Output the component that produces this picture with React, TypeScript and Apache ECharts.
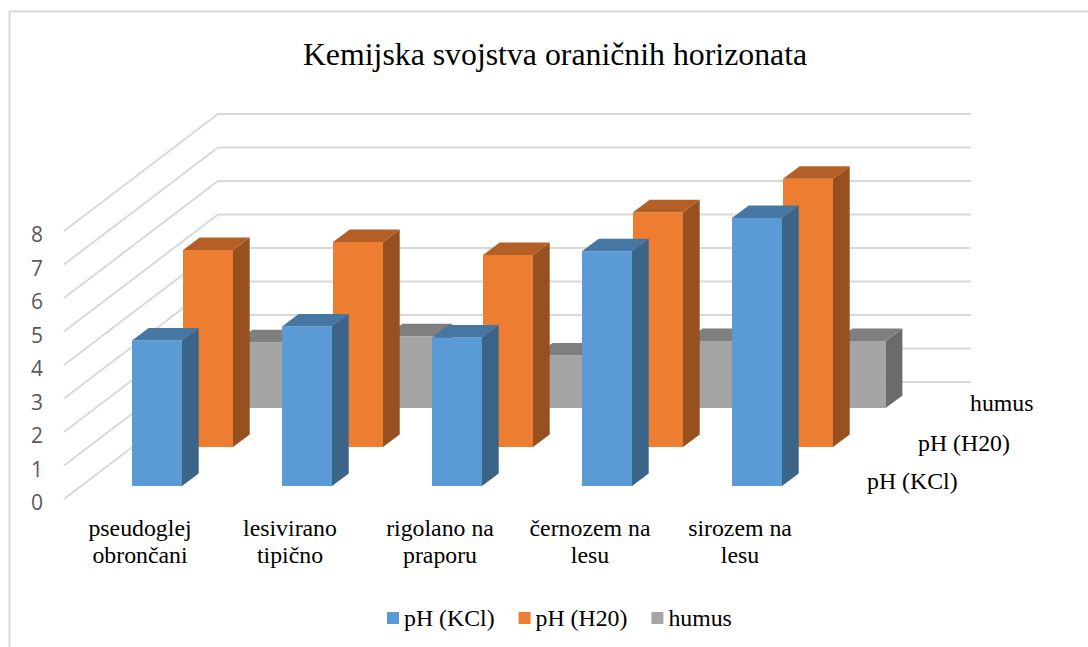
import React, { useEffect, useRef } from "react";
import * as echarts from "echarts";

const titleText = "Kemijska svojstva oraničnih horizonata";
const categories = ["pseudoglej\nobrončani", "lesivirano\ntipično", "rigolano na\npraporu", "černozem na\nlesu", "sirozem na\nlesu"];
const phKcl = [4.34, 4.76, 4.43, 7.01, 8.0];
const phH2o = [5.88, 6.12, 5.73, 7.01, 8.01];
const humus = [1.96, 2.14, 1.57, 2.0, 2.0];
const gridValues = [0, 1, 2, 3, 4, 5, 6, 7, 8];
const seriesNames = ["pH (KCl)", "pH (H20)", "humus"];

const serif = "'Liberation Serif', serif";
const sans = "'Open Sans', sans-serif";

function barSeries(name: string, values: number[], c: { front: string; side: string; top: string }, dx: number, dy: number, z: number) {
  const W = 50, DW = 16.7, DH = 12.5;
  return {
    type: "custom",
    name,
    z,
    silent: true,
    itemStyle: { color: c.front },
    data: values.map((v, i) => [i, v]),
    renderItem: (_: any, api: any) => {
      const base = api.coord([api.value(0), 0]);
      const head = api.coord([api.value(0), api.value(1)]);
      const x = base[0] + dx;
      const y0 = base[1] + dy;
      const y1 = head[1] + dy;
      return {
        type: "group",
        children: [
          { type: "polygon", shape: { points: [[x, y0], [x + W, y0], [x + W, y1], [x, y1]] }, style: { fill: c.front } },
          { type: "polygon", shape: { points: [[x + W, y0], [x + W + DW, y0 - DH], [x + W + DW, y1 - DH], [x + W, y1]] }, style: { fill: c.side } },
          { type: "polygon", shape: { points: [[x, y1], [x + DW, y1 - DH], [x + W + DW, y1 - DH], [x + W, y1]] }, style: { fill: c.top } },
        ],
      };
    },
  };
}

export default function App() {
  const ref = useRef<HTMLDivElement>(null);
  useEffect(() => {
    const chart = echarts.init(ref.current!, undefined, { renderer: "svg" });
    chart.setOption({
      animation: false,
      backgroundColor: "#fff",
      title: {
        text: titleText,
        left: 550,
        top: 33,
        textAlign: "center",
        textStyle: { fontFamily: serif, fontSize: 31.8, fontWeight: "normal", color: "#000" },
      },
      legend: {
        data: seriesNames,
        left: 382,
        top: 601,
        icon: "rect",
        itemWidth: 12,
        itemHeight: 12,
        itemGap: 24,
        selectedMode: false,
        textStyle: { fontFamily: serif, fontSize: 23.8, color: "#000" },
      },
      grid: { left: 65, right: 273, top: 231, bottom: 148 },
      xAxis: {
        type: "category",
        data: categories,
        axisLine: { show: false },
        axisTick: { show: false },
        axisLabel: { fontFamily: serif, fontSize: 23.8, color: "#000", lineHeight: 27, margin: 15, interval: 0 },
      },
      yAxis: {
        type: "value",
        min: 0,
        max: 8,
        interval: 1,
        splitLine: { show: false },
        axisLine: { show: false },
        axisTick: { show: false },
        axisLabel: { fontFamily: sans, fontSize: 21, color: "#595959", margin: 22, verticalAlign: "top", lineHeight: 6 },
      },
      graphic: [
        { type: "polyline", z: 0, shape: { points: [[9.5, 647], [9.5, 11.5], [1088, 11.5]] }, style: { fill: "none", stroke: "#D9D9D9", lineWidth: 2 } },
        { type: "text", x: 867, y: 469, style: { text: seriesNames[0], font: `23.8px ${serif}`, fill: "#000" } },
        { type: "text", x: 918, y: 431, style: { text: seriesNames[1], font: `23.8px ${serif}`, fill: "#000" } },
        { type: "text", x: 970, y: 391, style: { text: seriesNames[2], font: `23.8px ${serif}`, fill: "#000" } },
      ],
      series: [
        {
          type: "custom",
          name: "grid",
          z: 1,
          silent: true,
          data: gridValues.map((v) => [0, v]),
          renderItem: (params: any, api: any) => {
            const p = api.coord([0, api.value(1)]);
            const x0 = params.coordSys.x;
            const y = p[1];
            return {
              type: "polyline",
              shape: { points: [[x0 - 1, y], [x0 + 153, y - 117], [971, y - 117]] },
              style: { fill: "none", stroke: "#D9D9D9", lineWidth: 2 },
            };
          },
        },
        barSeries(seriesNames[2], humus, { front: "#A5A5A5", side: "#6B6B6B", top: "#7F7F7F" }, 95.7, -91, 2),
        barSeries(seriesNames[1], phH2o, { front: "#ED7D31", side: "#97501F", top: "#B45F25" }, 43, -52, 3),
        barSeries(seriesNames[0], phKcl, { front: "#5B9BD5", side: "#3A6488", top: "#4577A2" }, -8, -13, 4),
      ],
    });
    return () => chart.dispose();
  }, []);
  return <div ref={ref} style={{ position: "absolute", left: 0, top: 0, width: 1088, height: 647 }} />;
}
